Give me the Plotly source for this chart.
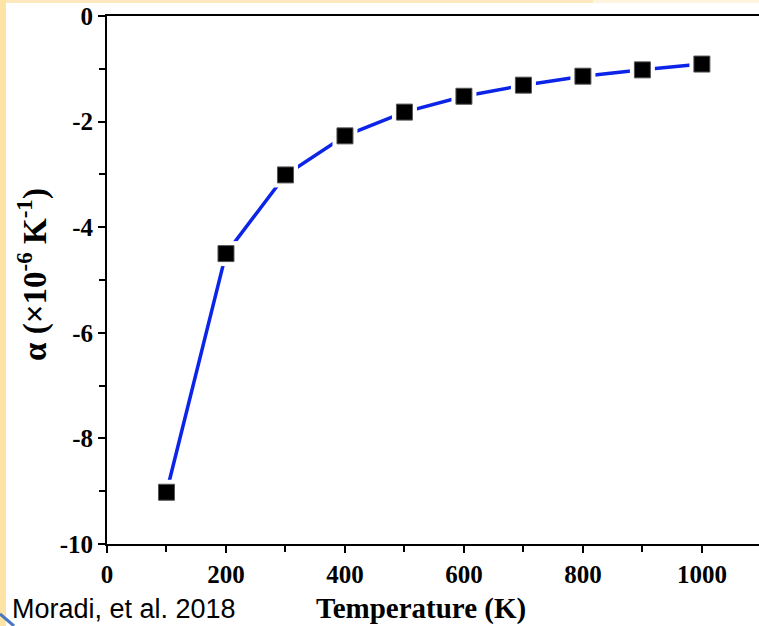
import plotly.graph_objects as go

temperature = [100, 200, 300, 400, 500, 600, 700, 800, 900, 1000]
alpha = [-9.02, -4.50, -3.01, -2.27, -1.82, -1.52, -1.31, -1.14, -1.02, -0.91]

x_ticks = [0, 200, 400, 600, 800, 1000]
x_ticklabels = ["0", "200", "400", "600", "800", "1000"]
y_ticks = [0, -2, -4, -6, -8, -10]
y_ticklabels = ["0", "-2", "-4", "-6", "-8", "-10"]

W, H = 759, 626
L, R, T, B = 107, 0, 16, 82
PW, PH = W - L - R, H - T - B

def px(xp):
    return (xp - L) / PW

def py(yp):
    return (H - B - yp) / PH

serif = "Liberation Serif"

fig = go.Figure()
fig.add_trace(go.Scatter(x=temperature, y=alpha, mode="lines",
                         line=dict(color="#0b24e8", width=3.5), hoverinfo="skip"))
fig.add_trace(go.Scatter(x=temperature, y=alpha, mode="markers",
                         marker=dict(symbol="square", size=25, color="white",
                                     line=dict(width=0)), hoverinfo="skip"))
fig.add_trace(go.Scatter(x=temperature, y=alpha, mode="markers",
                         marker=dict(symbol="square", size=16, color="black",
                                     line=dict(width=1, color="#555555"))))

tickfont = dict(family=serif, size=25, color="black", weight="bold")

fig.update_layout(
    width=W, height=H,
    margin=dict(l=L, r=R, t=T, b=B),
    paper_bgcolor="white", plot_bgcolor="white",
    showlegend=False,
    xaxis=dict(range=[0, 1096], tickvals=x_ticks, ticktext=x_ticklabels,
               showgrid=False, zeroline=False, showline=True, linecolor="black",
               linewidth=2, mirror=True, ticks="outside", ticklen=7, tickwidth=2,
               tickcolor="black",
               minor=dict(dtick=100, tick0=0, ticks="outside", ticklen=6,
                          tickwidth=2, tickcolor="black"),
               tickfont=tickfont),
    yaxis=dict(range=[-10, 0], tickvals=y_ticks, ticktext=y_ticklabels,
               showgrid=False, zeroline=False, showline=True, linecolor="black",
               linewidth=2, mirror=False, ticks="outside", ticklen=7, tickwidth=2,
               tickcolor="black",
               minor=dict(dtick=1, tick0=0, ticks="outside", ticklen=6,
                          tickwidth=2, tickcolor="black"),
               tickfont=tickfont),
)

# decorative slide background strips
fig.add_shape(type="rect", xref="paper", yref="paper", x0=px(0), x1=px(593),
              y0=py(3), y1=py(0), fillcolor="#fde9bd", line=dict(width=0), layer="below")
fig.add_shape(type="rect", xref="paper", yref="paper", x0=px(593), x1=px(759),
              y0=py(3), y1=py(0), fillcolor="#fff5df", line=dict(width=0), layer="below")
fig.add_shape(type="rect", xref="paper", yref="paper", x0=px(0), x1=px(6),
              y0=py(626), y1=py(0), fillcolor="#fde4a6", line=dict(width=0), layer="below")
fig.add_shape(type="path", xref="paper", yref="paper",
              path=f"M {px(0)},{py(614)} Q {px(6)},{py(619)} {px(14)},{py(626)}",
              line=dict(color="#4a78c0", width=3))

fig.add_annotation(text="Temperature (K)", xref="paper", yref="paper",
                   x=px(421), y=py(608), xanchor="center", yanchor="middle",
                   showarrow=False,
                   font=dict(family=serif, size=29, color="black", weight="bold"))
fig.add_annotation(text="α (×10<sup>-6</sup> K<sup>-1</sup>)", xref="paper", yref="paper",
                   x=px(32), y=py(275), xanchor="center", yanchor="middle",
                   textangle=-90, showarrow=False,
                   font=dict(family=serif, size=33, color="black", weight="bold"))
fig.add_annotation(text="Moradi, et al. 2018", xref="paper", yref="paper",
                   x=px(10), y=py(609), xanchor="left", yanchor="middle",
                   showarrow=False,
                   font=dict(family="Liberation Sans", size=27, color="black"))

fig.write_html("out.html")
